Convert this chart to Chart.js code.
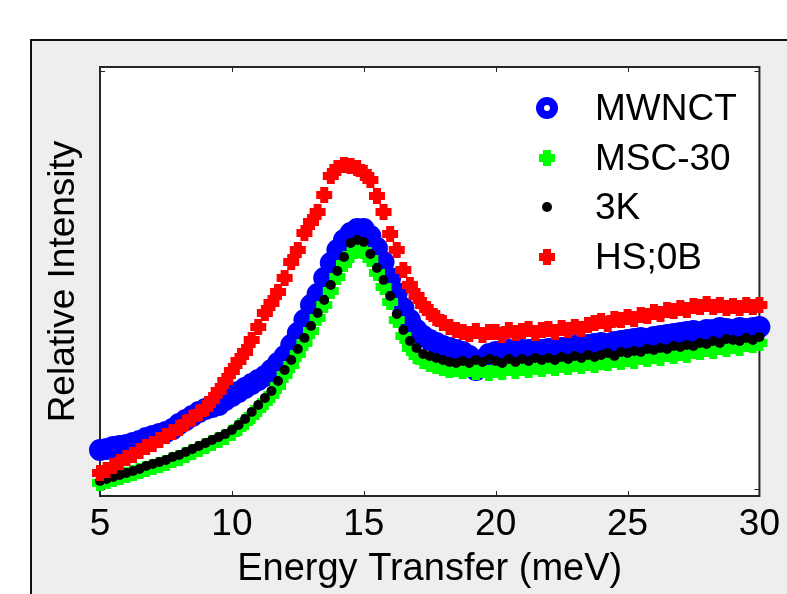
<!DOCTYPE html>
<html>
<head>
<meta charset="utf-8">
<script src="https://cdn.jsdelivr.net/npm/chart.js@4.4.1/dist/chart.umd.min.js"></script>
<style>
  html, body { margin: 0; padding: 0; background: #fff; }
</style>
</head>
<body>
<canvas id="c" width="787" height="594"></canvas>
<script>
// Energy transfer (meV), one entry per measured point
const energy = [
  5, 5.25, 5.5, 5.75, 6, 6.25, 6.5, 6.75, 7, 7.25, 7.5, 7.75,
  8, 8.25, 8.5, 8.75, 9, 9.25, 9.5, 9.75, 10, 10.25, 10.5, 10.75,
  11, 11.25, 11.5, 11.75, 12, 12.25, 12.5, 12.75, 13, 13.25, 13.5, 13.75,
  14, 14.25, 14.5, 14.75, 15, 15.25, 15.5, 15.75, 16, 16.25, 16.5, 16.75,
  17, 17.25, 17.5, 17.75, 18, 18.25, 18.5, 18.75, 19, 19.25, 19.5, 19.75,
  20, 20.25, 20.5, 20.75, 21, 21.25, 21.5, 21.75, 22, 22.25, 22.5, 22.75,
  23, 23.25, 23.5, 23.75, 24, 24.25, 24.5, 24.75, 25, 25.25, 25.5, 25.75,
  26, 26.25, 26.5, 26.75, 27, 27.25, 27.5, 27.75, 28, 28.25, 28.5, 28.75,
  29, 29.25, 29.5, 29.75, 30
];

// Relative intensity (arbitrary units)
const mwnct = [
  46, 47, 49, 50, 51, 53, 55, 58, 60, 62, 64, 67,
  72, 76, 80, 84, 87, 89, 91, 96, 100, 104, 108, 112,
  116, 120, 126, 133, 140, 151, 163, 176, 191, 202, 218, 233,
  246, 256, 263, 267, 267, 260, 248, 234, 218, 203, 188, 176,
  166, 160, 156, 153, 150, 148, 146, 144, 140, 126, 136, 142,
  144, 145, 146, 145, 146, 146, 147, 146, 147, 148, 148, 149,
  150, 149, 151, 152, 153, 152, 154, 155, 156, 157, 158, 157,
  159, 160, 161, 162, 163, 164, 165, 164, 166, 166, 168, 167,
  166, 168, 167, 168, 169
];
const msc30 = [
  13, 15, 17, 19, 21, 23, 25, 27, 29, 31, 33, 36,
  38, 41, 44, 47, 50, 53, 56, 59, 63, 68, 74, 80,
  87, 94, 101, 110, 121, 131, 142, 153, 165, 178, 191, 205,
  219, 232, 241, 246, 245, 237, 223, 209, 194, 176, 160, 148,
  140, 135, 132, 130, 128, 126, 127, 125, 127, 124, 126, 123,
  126, 124, 128, 125, 128, 126, 129, 127, 130, 128, 131, 129,
  132, 130, 133, 131, 134, 133, 136, 134, 137, 135, 139, 137,
  140, 138, 142, 140, 143, 141, 145, 144, 147, 145, 149, 147,
  150, 148, 152, 151, 153
];
const k3 = [
  15, 17, 19, 21, 23, 25, 27, 30, 32, 34, 36, 39,
  41, 44, 47, 50, 53, 56, 59, 62, 66, 71, 77, 84,
  91, 98, 105, 115, 126, 136, 147, 158, 170, 183, 196, 211,
  225, 239, 253, 256, 254, 242, 228, 216, 200, 182, 166, 155,
  148, 142, 140, 138, 136, 134, 133, 135, 133, 136, 134, 137,
  135, 133, 137, 134, 137, 135, 138, 136, 138, 136, 139, 137,
  140, 138, 141, 139, 141, 143, 140, 144, 143, 145, 144, 147,
  146, 148, 147, 150, 149, 151, 150, 153, 152, 155, 153, 157,
  156, 155, 158, 156, 159
];
const hs0b = [
  23, 26, 30, 34, 38, 41, 45, 49, 52, 56, 60, 64,
  68, 73, 78, 83, 88, 96, 105, 115, 125, 135, 144, 156,
  169, 183, 193, 204, 218, 234, 246, 263, 274, 284, 301, 320,
  328, 331, 330, 328, 323, 316, 300, 284, 262, 246, 226, 211,
  200, 191, 184, 178, 173, 169, 166, 164, 162, 165, 161, 164,
  164, 161, 166, 163, 165, 167, 163, 166, 167, 164, 168, 166,
  169, 167, 171, 173, 175, 172, 177, 176, 179, 177, 181, 180,
  184, 182, 186, 185, 188, 186, 190, 189, 192, 189, 191, 188,
  190, 188, 191, 189, 191
];

const seriesNames = ['MWNCT', 'MSC-30', '3K', 'HS;0B'];
const xTicks = [5, 10, 15, 20, 25, 30];
const yTicks = [7, 425];

const FONT = '"Liberation Sans", Arial, Helvetica, sans-serif';
const toPoints = (ys) => ys.map((y, i) => ({ x: energy[i], y }));

// draw one marker the same way the dataset draws it
const drawMarker = (ctx, ds, x, y) => {
  Chart.helpers.drawPoint(ctx, {
    pointStyle: ds.pointStyle,
    radius: ds.pointRadius,
    borderWidth: ds.pointBorderWidth,
    rotation: 0
  }, x, y);
};

// figure background, frame, white axes area, box + ticks, inner legend
const matlabFrame = {
  id: 'matlabFrame',
  beforeDraw(chart) {
    const { ctx, chartArea: a, width, height } = chart;
    ctx.save();
    ctx.fillStyle = '#ffffff';
    ctx.fillRect(0, 0, width, height);
    ctx.fillStyle = '#eeeeee';
    ctx.fillRect(30, 39, width - 30, height - 39);
    ctx.strokeStyle = '#111111';
    ctx.lineWidth = 2;
    ctx.beginPath();
    ctx.moveTo(31, height);
    ctx.lineTo(31, 40);
    ctx.lineTo(width, 40);
    ctx.stroke();
    ctx.fillStyle = '#ffffff';
    ctx.fillRect(a.left, a.top, a.right - a.left, a.bottom - a.top);
    ctx.restore();
  },
  beforeDatasetsDraw(chart) {
    const { ctx, chartArea: a, scales } = chart;
    ctx.save();
    ctx.strokeStyle = '#262626';
    ctx.lineWidth = 2;
    ctx.strokeRect(a.left, a.top, a.right - a.left, a.bottom - a.top);
    ctx.lineWidth = 1;
    ctx.beginPath();
    xTicks.forEach((v) => {
      const px = Math.round(scales.x.getPixelForValue(v)) + 0.5;
      ctx.moveTo(px, a.top); ctx.lineTo(px, a.top + 5);
      ctx.moveTo(px, a.bottom); ctx.lineTo(px, a.bottom - 5);
    });
    yTicks.forEach((v) => {
      const py = Math.round(scales.y.getPixelForValue(v)) + 0.5;
      ctx.moveTo(a.left, py); ctx.lineTo(a.left + 5, py);
      ctx.moveTo(a.right, py); ctx.lineTo(a.right - 5, py);
    });
    ctx.stroke();
    ctx.restore();
  },
  afterDraw(chart) {
    const { ctx, chartArea: a } = chart;
    const rows = [a.top + 43, a.top + 93, a.top + 142, a.top + 192];
    ctx.save();
    chart.data.datasets.forEach((ds, i) => {
      // open ring for MWNCT in the key, solid fill elsewhere
      ctx.fillStyle = ds.legendFill || ds.backgroundColor;
      ctx.strokeStyle = ds.borderColor;
      ctx.lineWidth = ds.pointBorderWidth;
      drawMarker(ctx, ds, a.left + 447, rows[i] - 2);
      ctx.fillStyle = '#000000';
      ctx.font = '37px ' + FONT;
      ctx.textAlign = 'left';
      ctx.textBaseline = 'middle';
      ctx.fillText(seriesNames[i], a.left + 495, rows[i]);
    });
    ctx.restore();
  }
};

new Chart(document.getElementById('c'), {
  type: 'scatter',
  data: {
    datasets: [
      {
        label: seriesNames[0], data: toPoints(mwnct),
        pointStyle: 'circle', pointRadius: 7, pointBorderWidth: 8,
        borderColor: '#0000ff', backgroundColor: '#0000ff', legendFill: '#ffffff',
        order: 3, clip: false
      },
      {
        label: seriesNames[1], data: toPoints(msc30),
        pointStyle: 'cross', pointRadius: 8, pointBorderWidth: 8,
        borderColor: '#00ff00', backgroundColor: '#00ff00',
        order: 2, clip: false
      },
      {
        label: seriesNames[2], data: toPoints(k3),
        pointStyle: 'circle', pointRadius: 5, pointBorderWidth: 0,
        borderColor: '#000000', backgroundColor: '#000000',
        order: 1, clip: false
      },
      {
        label: seriesNames[3], data: toPoints(hs0b),
        pointStyle: 'cross', pointRadius: 8, pointBorderWidth: 8,
        borderColor: '#ff0000', backgroundColor: '#ff0000',
        order: 0, clip: false
      }
    ]
  },
  options: {
    responsive: false,
    animation: false,
    devicePixelRatio: 1,
    events: [],
    layout: { padding: { top: 67, right: 25, bottom: 0, left: 0 } },
    plugins: { legend: { display: false }, tooltip: { enabled: false } },
    scales: {
      x: {
        type: 'linear', min: 5, max: 30,
        grid: { display: false, drawTicks: false, tickLength: 0 },
        border: { display: false },
        afterBuildTicks: (s) => { s.ticks = xTicks.map((v) => ({ value: v })); },
        ticks: {
          padding: 7, color: '#000000', maxRotation: 0, autoSkip: false,
          font: { family: FONT, size: 37 }
        },
        title: {
          display: true, text: 'Energy Transfer (meV)', color: '#000000',
          font: { family: FONT, size: 38 }, padding: { top: 0, bottom: 2 }
        },
        afterFit: (s) => { s.height = 98; }
      },
      y: {
        type: 'linear', min: 0, max: 429,
        grid: { display: false, drawTicks: false, tickLength: 0 },
        border: { display: false },
        afterBuildTicks: (s) => { s.ticks = yTicks.map((v) => ({ value: v })); },
        ticks: { display: false },
        title: {
          display: true, text: 'Relative Intensity', color: '#000000',
          font: { family: FONT, size: 37 }, padding: { top: 42, bottom: 0 }
        },
        afterFit: (s) => { s.width = 100; }
      }
    }
  },
  plugins: [matlabFrame]
});
</script>
</body>
</html>
